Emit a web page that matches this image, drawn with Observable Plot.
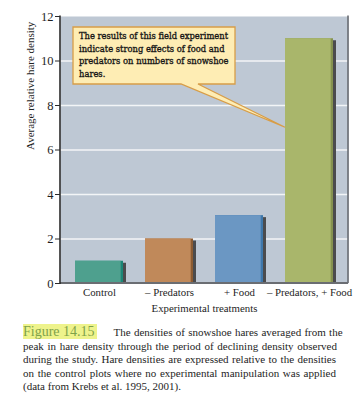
<!DOCTYPE html>
<html>
<head>
<meta charset="utf-8">
<script src="https://cdn.jsdelivr.net/npm/d3@7"></script>
<script src="https://cdn.jsdelivr.net/npm/@observablehq/plot@0.6"></script>
<style>
  html, body { margin: 0; padding: 0; background: #fff; }
  body { width: 361px; height: 400px; overflow: hidden; position: relative; font-family: "Liberation Serif", "Times New Roman", serif; }
  #chart svg { display: block; }
  #caption { position: absolute; left: 23px; top: 325px; font-size: 11px; line-height: 13.6px; color: #1e1e1e; white-space: nowrap; }
  #caption .fig { font-size: 14px; color: #7ea24a; background: #eef38c; padding: 0 2px 0 0; margin-right: 17px; }
</style>
</head>
<body>
<div id="chart"></div>
<div id="caption"></div>
<script>
// ---- data ----
const categories = ["Control", "– Predators", "+ Food", "– Predators, + Food"];
const densities = [1.0, 2.0, 3.05, 11.0];
const barColors = ["#4ea08e", "#c0895a", "#6b97c3", "#a9b66b"];
const edgeColors = ["#1b8676", "#8c5b31", "#3e77aa", "#85924f"];
const yTicks = [0, 2, 4, 6, 8, 10, 12];
const gridValues = [2, 4, 6, 8, 10];
const yLabel = "Average relative hare density";
const xLabel = "Experimental treatments";
const noteLines = [
  "The results of this field experiment",
  "indicate strong effects of food and",
  "predators on numbers of snowshoe",
  "hares."
];
const noteTarget = { category: "– Predators, + Food", value: 7 };
const figureLabel = "Figure 14.15";
const captionLines = [
  "The densities of snowshoe hares averaged from the",
  "peak in hare density through the period of declining density observed",
  "during the study. Hare densities are expressed relative to the densities",
  "on the control plots where no experimental manipulation was applied",
  "(data from Krebs et al. 1995, 2001)."
];

const table = categories.map((c, i) => ({ category: c, density: densities[i], color: barColors[i], edge: edgeColors[i] }));

// frame lines (left axis, right border, baseline)
function frameLines(index, scales, values, dims) {
  const { width, height, marginTop, marginRight, marginBottom, marginLeft } = dims;
  const l = marginLeft, r = width - marginRight, t = marginTop - 0.5, b = height - marginBottom;
  const g = d3.create("svg:g");
  g.append("line").attr("x1", r).attr("x2", r).attr("y1", t).attr("y2", b)
    .attr("stroke", "#6a6d72").attr("stroke-width", 1.6);
  g.append("line").attr("x1", l).attr("x2", r).attr("y1", b).attr("y2", b)
    .attr("stroke", "#6a6d72").attr("stroke-width", 2);
  g.append("line").attr("x1", l).attr("x2", l).attr("y1", t).attr("y2", b + 1)
    .attr("stroke", "#2b2b2b").attr("stroke-width", 1.6);
  return g.node();
}

// callout box
function callout(index, scales, values, dims) {
  const { marginTop, marginLeft } = dims;
  const bx = marginLeft + 13, by = marginTop + 11, bw = 162, bh = 57;
  const tipX = scales.x(noteTarget.category);
  const tipY = scales.y(noteTarget.value);
  const g = d3.create("svg:g");
  const p = d3.path();
  p.moveTo(bx, by); p.lineTo(bx + bw, by); p.lineTo(bx + bw, by + bh);
  p.lineTo(bx + 125, by + bh); p.lineTo(tipX, tipY); p.lineTo(bx + 108, by + bh);
  p.lineTo(bx, by + bh); p.closePath();
  g.append("path").attr("d", p.toString()).attr("fill", "#feedb4")
    .attr("stroke", "#d79d48").attr("stroke-width", 1.3).attr("stroke-linejoin", "miter");
  noteLines.forEach((s, i) => {
    g.append("text").attr("class", "note-line").attr("x", bx + 6).attr("y", by + 12 + i * 12.6)
      .attr("text-anchor", "start")
      .style("font-family", "'DejaVu Serif'").style("font-size", "8.4px")
      .attr("fill", "#141414").attr("stroke", "#141414").attr("stroke-width", 0.3).text(s);
  });
  return g.node();
}

const chart = Plot.plot({
  width: 361,
  height: 318,
  marginTop: 16,
  marginBottom: 35,
  marginLeft: 60,
  marginRight: 13,
  style: { fontFamily: "Liberation Serif", fontSize: "11px", color: "#1e1e1e", background: "transparent" },
  x: { domain: categories, paddingInner: 0.317, paddingOuter: 0.207 },
  y: { domain: [0, 12] },
  color: { type: "identity" },
  marks: [
    Plot.frame({ fill: "#bec8d4", stroke: null }),
    Plot.ruleY(gridValues, { stroke: "#f3f5f7", strokeWidth: 1.4 }),
    Plot.barY(table, { x: "category", y: "density", fill: "#4b4b4d", dx: 3, insetTop: 2 }),
    Plot.barY(table, { x: "category", y: "density", fill: "edge" }),
    Plot.barY(table, { x: "category", y: "density", fill: "color", insetRight: 2.3 }),
    frameLines,
    callout,
    Plot.axisY({ ticks: yTicks, tickSize: 5, tickPadding: 2, label: null, fontSize: 12.5, stroke: "#2b2b2b" }),
    Plot.axisX({ tickSize: 0, tickPadding: 5, label: null, fontSize: 10.8 }),
    Plot.text([yLabel], { text: d => d, frameAnchor: "left", dx: -30, rotate: -90, fontSize: 11, fill: "#1e1e1e" }),
    Plot.text([xLabel], { text: d => d, frameAnchor: "bottom", dy: 28, fontSize: 10.8, fill: "#1e1e1e" })
  ]
});
document.getElementById("chart").appendChild(chart);

// caption, justified to the reference line widths
const cap = document.getElementById("caption");
const capWidths = [229, 314, 313, 313, null];
captionLines.forEach((line, i) => {
  const div = document.createElement("div");
  if (i === 0) {
    const f = document.createElement("span");
    f.className = "fig";
    f.textContent = figureLabel;
    div.appendChild(f);
  }
  const s = document.createElement("span");
  s.textContent = line;
  div.appendChild(s);
  cap.appendChild(div);
  if (capWidths[i]) {
    const w = s.getBoundingClientRect().width;
    const spaces = (line.match(/ /g) || []).length;
    const ws = spaces ? (capWidths[i] - w) / spaces : 0;
    if (Math.abs(ws) < 1.5) s.style.wordSpacing = ws + "px";
  }
});
</script>
</body>
</html>
